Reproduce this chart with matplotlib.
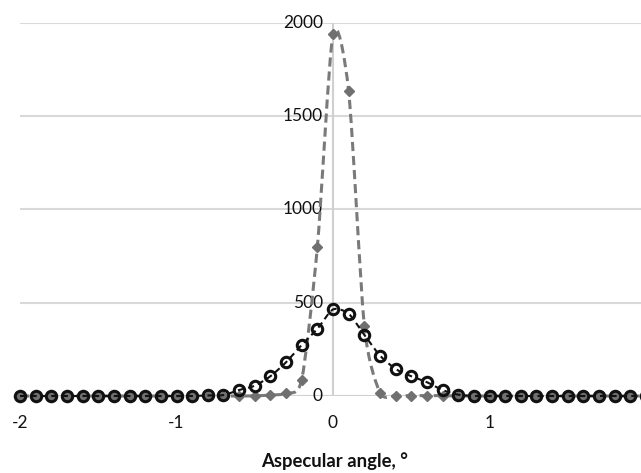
import numpy as np
import matplotlib.pyplot as plt
from matplotlib.path import Path
from matplotlib.patches import PathPatch

# Data
angle = [-2.0, -1.9, -1.8, -1.7, -1.6, -1.5, -1.4, -1.3, -1.2, -1.1, -1.0,
         -0.9, -0.8, -0.7, -0.6, -0.5, -0.4, -0.3, -0.2, -0.1, 0.0,
         0.1, 0.2, 0.3, 0.4, 0.5, 0.6, 0.7, 0.8, 0.9, 1.0,
         1.1, 1.2, 1.3, 1.4, 1.5, 1.6, 1.7, 1.8, 1.9, 2.0]
broad = [0, 0, 0, 0, 0, 0, 0, 0, 0, 0, 0,
         0, 3, 5, 32, 55, 106, 181, 274, 360, 464,
         441, 328, 217, 145, 106, 74, 32, 7, 0, 0,
         0, 0, 0, 0, 0, 0, 0, 0, 0, 0]
sharp = [0, 0, 0, 0, 0, 0, 0, 0, 0, 0, 0,
         0, 0, 0, 0, 1, 5, 15, 88, 799, 1943,
         1634, 378, 18, 2, 2, 2, 2, 0, 0, 0,
         0, 0, 0, 0, 0, 0, 0, 0, 0, 0]
xticks = [-2, -1, 0, 1, 2]
yticks = [0, 500, 1000, 1500, 2000]


def smooth_path(x, y, t=1/8):
    # bezier through the points, like a spreadsheet "smoothed line"
    x = np.asarray(x, float)
    y = np.asarray(y, float)
    n = len(x)
    verts = [(x[0], y[0])]
    codes = [Path.MOVETO]
    for i in range(n - 1):
        i0 = max(i - 1, 0)
        i3 = min(i + 2, n - 1)
        c1 = (x[i] + (x[i + 1] - x[i0]) * t, y[i] + (y[i + 1] - y[i0]) * t)
        c2 = (x[i + 1] - (x[i3] - x[i]) * t, y[i + 1] - (y[i3] - y[i]) * t)
        verts += [c1, c2, (x[i + 1], y[i + 1])]
        codes += [Path.CURVE4] * 3
    return Path(verts, codes)


plt.rcParams['font.family'] = ['Lato', 'DejaVu Sans']

fig = plt.figure(figsize=(6.41, 4.73), dpi=100)
ax = fig.add_axes([20 / 641, 77 / 473, 626 / 641, 373 / 473])

ax.set_xlim(-2, 2)
ax.set_ylim(0, 2000)
ax.set_yticks(yticks)
ax.set_xticks(xticks)
ax.grid(axis='y', color='#d9d9d9', lw=1.5)
ax.set_axisbelow(True)
for s in ['top', 'right', 'bottom', 'left']:
    ax.spines[s].set_visible(False)
ax.axvline(0, color='#d0d0d0', lw=1.5, zorder=1)
ax.axhline(0, color='#d0d0d0', lw=1.5, zorder=1)

# sharp peak, grey diamonds
ax.add_patch(PathPatch(smooth_path(angle, sharp), fill=False, ec='#7a7a7a',
                       lw=2.2, ls=(0, (3, 1.6)), zorder=3, clip_on=False))
ax.plot(angle, sharp, ls='none', marker='D', ms=5.5, color='#707070',
        zorder=4, clip_on=False)

# broad peak, hollow black circles
ax.add_patch(PathPatch(smooth_path(angle, broad), fill=False, ec='#111111',
                       lw=1.5, ls=(0, (3, 2)), zorder=5, clip_on=False))
ax.plot(angle, broad, ls='none', marker='o', ms=7.5, mfc='none', mec='#111111',
        mew=2.2, zorder=6, clip_on=False)

ax.tick_params(length=0)
ax.set_xticklabels(['-2', '-1', '0', '1', '2'], fontsize=12.5, color='#111111')
ax.tick_params(axis='x', pad=14)
ax.set_yticklabels([])
for v in yticks:
    ax.text(-0.065, v, str(v), ha='right', va='center', fontsize=12.5,
            color='#111111', zorder=2)

fig.text(335 / 641, 1 - 461 / 473, 'Aspecular angle, °', ha='center',
         va='center', fontsize=13.3, fontweight='bold', color='#111111')

fig.savefig('out.png', dpi=100)
